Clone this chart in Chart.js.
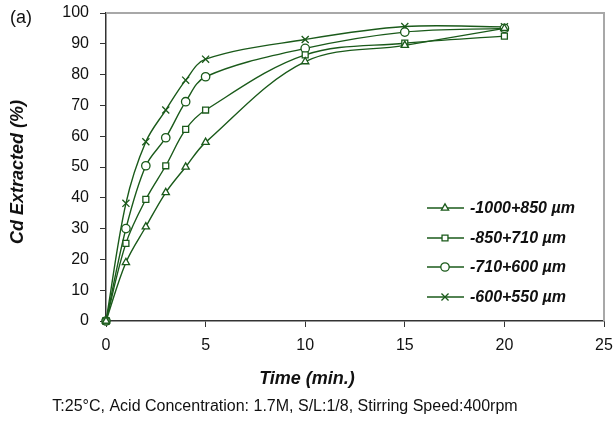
<!DOCTYPE html>
<html>
<head>
<meta charset="utf-8">
<script src="https://cdn.jsdelivr.net/npm/chart.js@4.4.0/dist/chart.umd.min.js"></script>
<style>
  html, body { margin: 0; padding: 0; background: #fff; }
  #wrap { width: 616px; height: 428px; }
</style>
</head>
<body>
<div id="wrap"><canvas id="cdChart" width="616" height="428"></canvas></div>
<script>
// Data
const timeMin = [0, 1, 2, 3, 4, 5, 10, 15, 20]
const size1000 = [0, 19, 30.6, 41.7, 50, 58, 84.2, 89.5, 95]
const size850 = [0, 25.2, 39.5, 50.4, 62.2, 68.5, 86.4, 90.2, 92.5]
const size710 = [0, 30, 50.4, 59.5, 71.2, 79.3, 88.5, 93.8, 95]
const size600 = [0, 38.2, 58.2, 68.5, 78.2, 85, 91.4, 95.6, 95.5]
const seriesLabels = ['-1000+850 µm', '-850+710 µm', '-710+600 µm', '-600+550 µm']
const markerStyles = ['triangle', 'rect', 'circle', 'crossRot']
const xTickValues = [0, 5, 10, 15, 20, 25]
const yTickValues = [0, 10, 20, 30, 40, 50, 60, 70, 80, 90, 100]

const green = '#1a5a1a'
const font = "'Liberation Sans', Arial, sans-serif"

const toPoints = ys => ys.map((y, i) => ({ x: timeMin[i], y: y }))

const makeDataset = (label, ys, style) => ({
  label: label,
  data: toPoints(ys),
  borderColor: green,
  borderWidth: 1.4,
  backgroundColor: '#fff',
  pointStyle: style,
  pointRadius: style === 'crossRot' ? 5 : 4.2,
  pointBorderWidth: 1.3,
  pointBorderColor: green,
  pointBackgroundColor: '#fff',
  tension: 0.35,
  clip: false
})

// legend drawn inside the plot, line + marker like the original
const insideLegend = {
  id: 'insideLegend',
  afterDatasetsDraw(chart) {
    const ctx = chart.ctx
    const rows = [208, 238, 267, 297]
    ctx.save()
    chart.data.datasets.forEach((ds, i) => {
      const y = rows[i]
      ctx.strokeStyle = green
      ctx.lineWidth = 1.4
      ctx.beginPath()
      ctx.moveTo(427, y)
      ctx.lineTo(464, y)
      ctx.stroke()
      const opts = {
        pointStyle: ds.pointStyle,
        radius: ds.pointRadius,
        borderWidth: ds.pointBorderWidth,
        rotation: 0
      }
      ctx.fillStyle = '#fff'
      ctx.strokeStyle = green
      ctx.lineWidth = ds.pointBorderWidth
      Chart.helpers.drawPoint(ctx, opts, 445, y)
      ctx.fillStyle = '#111'
      ctx.font = 'italic bold 16px ' + font
      ctx.textAlign = 'left'
      ctx.textBaseline = 'middle'
      ctx.fillText(ds.label, 470, y + 1)
    })
    ctx.restore()
  }
}

const frameAndText = {
  id: 'frameAndText',
  beforeDatasetsDraw(chart) {
    const { ctx, chartArea: a } = chart
    ctx.save()
    ctx.strokeStyle = '#a8a8a8'
    ctx.lineWidth = 2
    ctx.beginPath()
    ctx.moveTo(a.left, a.top)
    ctx.lineTo(a.right, a.top)
    ctx.lineTo(a.right, a.bottom)
    ctx.stroke()
    ctx.restore()
  },
  afterDraw(chart) {
    const ctx = chart.ctx
    ctx.save()
    ctx.fillStyle = '#111'
    ctx.textBaseline = 'middle'
    ctx.textAlign = 'left'
    ctx.font = '18px ' + font
    ctx.fillText('(a)', 10, 18)

    ctx.textAlign = 'center'
    ctx.font = 'italic bold 18px ' + font
    ctx.fillText('Time (min.)', 307, 379)

    ctx.font = '16px ' + font
    ctx.fillText('T:25°C, Acid Concentration: 1.7M, S/L:1/8, Stirring Speed:400rpm', 285, 407)

    ctx.translate(18, 172)
    ctx.rotate(-Math.PI / 2)
    ctx.font = 'italic bold 18px ' + font
    ctx.fillText('Cd Extracted (%)', 0, 0)
    ctx.restore()
  }
}

const ctx = document.getElementById('cdChart').getContext('2d')
new Chart(ctx, {
  type: 'line',
  data: {
    datasets: [
      makeDataset(seriesLabels[0], size1000, markerStyles[0]),
      makeDataset(seriesLabels[1], size850, markerStyles[1]),
      makeDataset(seriesLabels[2], size710, markerStyles[2]),
      makeDataset(seriesLabels[3], size600, markerStyles[3])
    ]
  },
  options: {
    responsive: false,
    animation: false,
    devicePixelRatio: 1,
    layout: { autoPadding: false, padding: { left: 0, top: 13, right: 12, bottom: 0 } },
    plugins: {
      legend: { display: false },
      title: { display: false },
      tooltip: { enabled: false }
    },
    scales: {
      x: {
        type: 'linear',
        min: 0,
        max: 25,
        afterBuildTicks: s => { s.ticks = xTickValues.map(v => ({ value: v })) },
        afterFit: s => {
          s.height = 107
          s.paddingLeft = 0
          s.paddingRight = 0
        },
        grid: { drawOnChartArea: false, drawTicks: true, tickLength: 6, color: '#333' },
        border: { color: '#333', width: 1.5 },
        ticks: { color: '#111', font: { family: font, size: 16 }, padding: 9, maxRotation: 0 }
      },
      y: {
        min: 0,
        max: 100,
        afterBuildTicks: s => { s.ticks = yTickValues.map(v => ({ value: v })) },
        afterFit: s => {
          // labels otherwise push the plot area down
          s.width = 106
          s.paddingTop = 0
          s.paddingBottom = 0
        },
        grid: { drawOnChartArea: false, drawTicks: true, tickLength: 6, color: '#333' },
        border: { color: '#333', width: 1.5 },
        ticks: { color: '#111', font: { family: font, size: 16 }, padding: 11 }
      }
    }
  },
  plugins: [frameAndText, insideLegend]
})
</script>
</body>
</html>
